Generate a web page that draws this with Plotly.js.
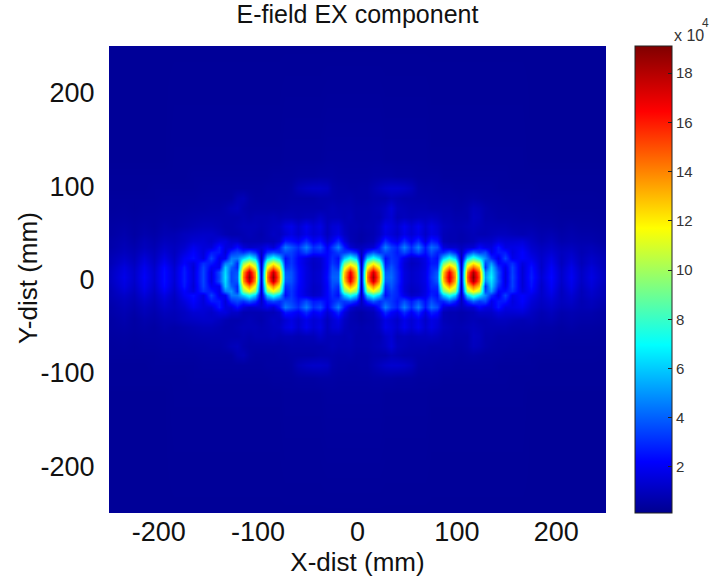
<!DOCTYPE html>
<html><head><meta charset="utf-8">
<script src="https://cdn.plot.ly/plotly-3.0.1.min.js"></script>
<style>html,body{margin:0;padding:0;background:#fff}</style></head>
<body><div id="chart" style="width:712px;height:577px"></div>
<script>
const xMm=[-250,-235,-225,-215,-205,-195,-185,-175,-165,-155,
-147,-139,-133,-127,-121,-115,-109,-103,-97,-91,
-85,-79,-73,-67,-60,-52,-45,-38,-31,-26,
-20,-14,-8,-2,4,10,16,22,28,34,
40,47,54,61,68,74,80,86,92,98,
104,110,116,122,128,134,141,148,155,165,
175,185,195,205,215,225,235,250];
const yMm=[-250,-122,-105,-92,-81,-71,-61,-51,-43,-35,-29,-23,-17,-12,-7,-2,3,8,13,18,23,29,35,41,49,57,67,77,87,98,111,128,250];
const r0=[1.0,1.8,1.2,2.1,1.3,2.4,1.4,2.7,1.5,3.5,1.6,3.5,6.5,3.5,4,14,18.8,14,1.2,14,18.8,14,4,3.8,2.4,1.6,1.2,1.4,2.4,4,4,13,17.5,13,.8,14,18.5,14,4,4.2,3,1.6,1.2,1.4,1.8,3.2,4,13,17.5,13.5,1,14.5,19,15,5,6.8,3.5,1.6,3.5,1.4,2.7,1.4,2.3,1.2,2,1.1,1.7,.9];
const r5=[1.0,1.7,1.2,2,1.3,2.4,1.4,2.7,1.5,3.5,1.6,3.6,6.3,3.5,3.8,13.5,17.8,13.5,1.1,13.5,17.8,13.5,3.8,3.7,2.4,1.6,1.2,1.4,2.3,3.8,3.8,12.5,16.8,12.5,.8,13.5,17.5,13.5,3.8,4,3,1.6,1.2,1.4,1.8,3,3.8,12.5,16.8,13,1,14,18.2,14.5,4.6,6.4,3.6,1.6,3.4,1.4,2.6,1.3,2.2,1.2,1.9,1.1,1.6,.9];
const r10=[.9,1.6,1.1,1.9,1.2,2.3,1.3,2.6,1.4,3.4,2,2,6,4,3,11.5,14,11.5,1,11.5,14,11.5,3,3.4,2.3,1.6,1.1,1.3,2.2,3.6,3,11,13.5,11.5,.7,11.5,14,11.5,3,3.8,2.8,1.5,1.1,1.3,1.7,2.9,3,11,13.5,11.5,.9,12,14.5,12.5,3,6,3,1.8,3.4,1.4,2.5,1.2,2.1,1.1,1.8,1,1.5,.8];
const r15=[.8,1.4,1,1.7,1.1,2,1.2,2.2,1.6,3,2.6,1.8,4.5,5,3,9.5,11.5,9.5,1,9.5,11.5,9.5,2.6,3.2,2.2,1.5,1.1,1.3,2.2,3.2,2.6,9,11,9.5,.7,9.5,11.5,9.5,2.6,3.4,2.8,1.5,1,1.2,1.7,2.6,2.6,9,11,9.5,.9,10,12,10.5,3.5,5,2.2,2.4,3,1.6,2.2,1.2,1.9,1,1.6,.9,1.3,.8];
const r20=[.8,1.2,.9,1.5,1,1.7,1.1,2,2.4,1.6,3.4,1.8,2,4.5,4.5,6,7.5,6,1,6,7.5,6,2.4,3.2,2.2,1.6,1.2,1.4,2.2,3,2.4,5.8,7.5,6,.8,6,7.5,6,2.4,3.2,2.8,1.8,1.2,1.4,1.8,2.8,2.4,5.8,7.5,6,.9,6.2,8,6.5,4.8,3,1.8,3.4,1.8,2.2,1.8,1.2,1.7,1,1.4,.9,1.2,.8];
const r26=[.7,1,.8,1.2,.9,1.4,1,1.6,2.2,1.5,2.6,2.6,1.5,3,3.5,3,3.8,3,1.2,3,3.5,3,3.6,3.4,2.6,3.6,2.6,2.8,2.2,2.8,3.4,3.2,3.6,2.8,1,2.8,3.8,3,3.6,3.2,2.6,3.6,2.6,3.6,2.4,3.6,2.8,2.8,3.8,2.8,1,2.8,4,3.2,3.6,1.8,2.6,2.6,1.6,2.2,1.5,1.1,1.4,1,1.2,.8,1,.7];
const r32=[.6,.9,.7,1,.8,1.2,1,1.3,1.9,1.5,1.5,2.6,1.6,1.6,2.4,1.5,1.2,1.3,1.4,1.8,1.4,2.5,4.5,3.8,3,4.6,3,3.6,2,3.2,4.6,2.6,1.4,1,1,1.2,1.4,2.6,4.6,3.4,2.8,4.6,3,4.6,2.6,4.2,3.6,1.6,1.3,1.3,1,1.3,1.4,2.2,1.7,1.6,2.6,1.7,1.7,1.9,1.3,1,1.2,.9,1,.8,.9,.6];
const r38=[.6,.8,.6,.9,.7,1,.9,1.1,1.4,1.4,1.2,1.6,1.6,1.2,1.2,.8,.8,.8,.8,.9,.9,1.2,2.6,2.4,2,3,2,2.4,1.4,2,3,1.6,.9,.7,.6,.8,.9,1.6,3,2.2,1.8,3,2,3,1.6,2.8,2.4,.9,.8,.8,.7,.8,.9,1.2,1.2,1.2,1.6,1.4,1.4,1.5,1.1,.8,1,.7,.8,.7,.7,.5];
const r46=[.5,.7,.5,.7,.6,.8,.8,1,1.1,1.2,1.2,1,.8,.7,.7,.8,.9,.8,.7,.9,1.1,1,1.4,1.7,1.3,1.8,1.4,1.6,1,1.4,1.7,1.1,.8,.7,.6,.7,.8,1.1,1.7,1.5,1.2,1.8,1.4,1.8,1.2,1.7,1.5,.9,.8,.8,.7,.8,.9,.8,.8,.9,1,1,.9,.8,.9,.7,.8,.6,.7,.6,.6,.5];
const r54=[.5,.6,.5,.6,.5,.7,.6,.7,.8,.9,.9,.8,.7,.7,.8,.9,.9,.9,.8,.9,1,1.1,1.6,1.8,1.3,1.9,1.4,1.7,1,1.4,1.5,1,.8,.8,.7,.8,.8,1.1,1.8,1.6,1.3,1.9,1.4,1.9,1.3,1.7,1.4,1,.9,.8,.8,.9,1,.9,.8,.8,.8,.8,.7,.7,.7,.6,.6,.5,.6,.5,.5,.45];
const r64=[.45,.5,.45,.5,.5,.55,.55,.6,.65,.7,.7,.7,.7,.7,.7,.8,.7,.8,.8,.8,.9,.8,.9,.9,.8,.9,.9,1.2,.9,.9,.9,.8,.9,.7,.7,.7,.8,.8,1.2,1.4,.9,1,.9,1,1,1.1,1,.8,.8,.7,.7,.7,1.1,1,.7,.7,.6,.6,.6,.55,.55,.5,.5,.45,.45,.45,.45,.4];
const r74=[.4,.45,.4,.45,.45,.5,.5,.5,.55,.55,.6,.6,.7,.9,1,.7,.6,.6,.6,.6,.6,.6,.65,.7,.7,.7,.7,.7,.8,.9,.8,.8,.8,.7,.7,.7,.8,.9,1.1,1.5,1,.9,.8,.8,.8,.7,.7,.7,.7,.6,.6,.7,1,.9,.7,.6,.55,.55,.5,.5,.5,.45,.45,.4,.4,.4,.4,.4];
const r84=[.4,.4,.4,.4,.4,.45,.45,.45,.45,.5,.5,.5,.5,.5,.8,.9,.6,.5,.5,.5,.5,.55,.55,.6,.6,.6,.6,.7,.7,.7,.65,.65,.7,.6,.6,.6,.7,.7,.7,.9,.8,.7,.7,.65,.65,.6,.6,.55,.55,.55,.5,.55,.6,.55,.5,.5,.5,.45,.45,.45,.4,.4,.4,.4,.4,.4,.4,.35];
const r95=[.35,.35,.35,.35,.4,.4,.4,.4,.4,.45,.45,.45,.45,.45,.45,.45,.45,.45,.45,.5,.5,.5,.5,.55,.9,1.1,1.2,1.2,1.1,.7,.6,.6,.55,.55,.6,.6,.8,1.0,1.2,1.3,1.3,1.2,1.0,.6,.55,.55,.5,.5,.5,.45,.45,.45,.45,.45,.45,.45,.4,.4,.4,.4,.4,.35,.35,.35,.35,.35,.35,.35];
const r108=[.35,.35,.35,.35,.35,.35,.35,.35,.4,.4,.4,.4,.4,.4,.4,.4,.4,.4,.4,.4,.45,.45,.45,.45,.5,.5,.5,.55,.55,.55,.5,.5,.5,.5,.5,.5,.55,.55,.55,.55,.5,.5,.5,.45,.45,.45,.45,.4,.4,.4,.4,.4,.4,.4,.4,.4,.4,.4,.35,.35,.35,.35,.35,.35,.35,.35,.35,.35];
const r125=[.3,.3,.3,.3,.3,.3,.35,.35,.35,.35,.35,.35,.35,.35,.35,.35,.35,.35,.35,.35,.35,.35,.4,.4,.4,.4,.4,.4,.45,.45,.45,.45,.45,.45,.45,.45,.45,.45,.4,.4,.4,.4,.4,.4,.4,.35,.35,.35,.35,.35,.35,.35,.35,.35,.35,.35,.35,.35,.35,.35,.3,.3,.3,.3,.3,.3,.3,.3];
const r250=[.3,.3,.3,.3,.3,.3,.3,.3,.3,.3,.3,.3,.3,.3,.3,.3,.3,.3,.3,.3,.3,.3,.3,.3,.3,.3,.3,.3,.3,.3,.3,.3,.3,.3,.3,.3,.3,.3,.3,.3,.3,.3,.3,.3,.3,.3,.3,.3,.3,.3,.3,.3,.3,.3,.3,.3,.3,.3,.3,.3,.3,.3,.3,.3,.3,.3,.3,.3];
const zRows=[r250,r125,r108,r95,r84,r74,r64,r54,r46,r38,r32,r26,r20,r15,r10,r5,r0,r5,r10,r15,r20,r26,r32,r38,r46,r54,r64,r74,r84,r95,r108,r125,r250];
const jet=[[0,'rgb(0,0,143)'],[0.11,'rgb(0,0,255)'],[0.36,'rgb(0,255,255)'],[0.61,'rgb(255,255,0)'],[0.86,'rgb(255,0,0)'],[1,'rgb(128,0,0)']];
const xTicks=[-200,-100,0,100,200];
const xLabels=['-200','-100','0','100','200'];
const yTicks=[-200,-100,0,100,200];
const yLabels=['-200','-100','0','100','200'];
const cbTicks=[2,4,6,8,10,12,14,16,18];
const font='"Liberation Sans",Arial,sans-serif';
Plotly.newPlot('chart',[{type:'heatmap',x:xMm,y:yMm,z:zRows,zsmooth:'best',colorscale:jet,zmin:0.13,zmax:19.1,
 colorbar:{x:1.058,xanchor:'left',xpad:0,y:0.5,yanchor:'middle',ypad:0,len:1,thickness:37,outlinecolor:'#222',outlinewidth:1,
  ticks:'inside',ticklen:4,tickcolor:'#222',tickvals:cbTicks,ticktext:cbTicks.map(String),tickfont:{family:font,size:15,color:'#333'}}}],
{width:712,height:577,margin:{l:109,r:106,t:46,b:64},paper_bgcolor:'#fff',plot_bgcolor:'#fff',showlegend:false,
 title:{text:'E-field EX component',font:{family:font,size:25,color:'#111'},x:0.5,xref:'paper',xanchor:'center',y:0.975,yanchor:'middle'},
 xaxis:{range:[-250,250],tickvals:xTicks,ticktext:xLabels,ticks:'',showgrid:false,zeroline:false,showline:false,tickfont:{family:font,size:27,color:'#111'},
  title:{text:'X-dist (mm)',font:{family:font,size:26,color:'#111'},standoff:2}},
 yaxis:{range:[-250,250],tickvals:yTicks,ticktext:yLabels,ticks:'outside',ticklen:8,tickcolor:'rgba(0,0,0,0)',showgrid:false,zeroline:false,showline:false,tickfont:{family:font,size:27,color:'#111'}},
 annotations:[
  {xref:'paper',yref:'paper',x:-0.163,y:0.503,xanchor:'center',yanchor:'middle',textangle:-90,showarrow:false,text:'Y-dist (mm)',font:{family:font,size:26,color:'#111'}},
  {xref:'paper',yref:'paper',x:1.133,y:1.0,xanchor:'left',yanchor:'bottom',yshift:0,showarrow:false,text:'x 10',font:{family:font,size:16,color:'#333'}},
  {xref:'paper',yref:'paper',x:1.19,y:1.0,xanchor:'left',yanchor:'bottom',yshift:14,showarrow:false,text:'4',font:{family:font,size:12,color:'#333'}}]
},{displayModeBar:false});
</script></body></html>
